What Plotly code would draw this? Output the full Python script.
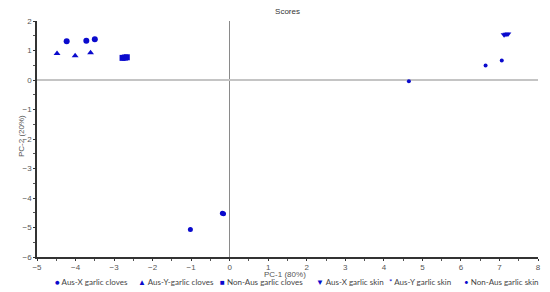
import plotly.graph_objects as go

# PCA scores
aus_x_cloves_pc1 = [-4.23, -3.72, -3.50]
aus_x_cloves_pc2 = [1.31, 1.33, 1.38]

aus_y_cloves_pc1 = [-4.48, -4.01, -3.61]
aus_y_cloves_pc2 = [0.90, 0.82, 0.92]

non_aus_cloves_pc1 = [-2.78, -2.72, -2.67]
non_aus_cloves_pc2 = [0.75, 0.76, 0.77]

aus_x_skin_pc1 = [7.12, 7.17, 7.22]
aus_x_skin_pc2 = [1.53, 1.55, 1.56]

aus_y_skin_pc1 = [4.65, 6.64, 7.06]
aus_y_skin_pc2 = [-0.04, 0.49, 0.66]

non_aus_skin_pc1 = [-1.02, -0.19, -0.16]
non_aus_skin_pc2 = [-5.07, -4.52, -4.53]

# legend labels as printed under the chart (note the hyphen in the 2nd one)
legend_labels = [
    "Aus-X garlic cloves", "Aus-Y-garlic cloves", "Non-Aus garlic cloves",
    "Aus-X garlic skin", "Aus-Y garlic skin", "Non-Aus garlic skin",
]
legend_glyphs = ["\u25cf", "\u25b2", "\u25a0", "\u25bc", "*", "\u2022"]

BLUE = "#0a0acd"
GREY_TXT = "#555555"
# the page body adds an 8px margin, so the figure is 8px smaller each way
W, H = 542, 284
M = dict(l=29, r=12, t=13, b=35)

series = [
    ("Aus-X garlic cloves", aus_x_cloves_pc1, aus_x_cloves_pc2, "circle", 6),
    ("Aus-Y garlic cloves", aus_y_cloves_pc1, aus_y_cloves_pc2, "triangle-up", 6),
    ("Non-Aus garlic cloves", non_aus_cloves_pc1, non_aus_cloves_pc2, "square", 6),
    ("Aus-X garlic skin", aus_x_skin_pc1, aus_x_skin_pc2, "triangle-down", 6),
    ("Aus-Y garlic skin", aus_y_skin_pc1, aus_y_skin_pc2, "circle", 4),
    ("Non-Aus garlic skin", non_aus_skin_pc1, non_aus_skin_pc2, "circle", 5),
]

fig = go.Figure()
for name, xs, ys, sym, size in series:
    fig.add_trace(go.Scatter(
        x=xs, y=ys, mode="markers", name=name, showlegend=False,
        marker=dict(symbol=sym, size=size, color=BLUE, line=dict(width=0)),
    ))

axis_common = dict(
    showgrid=False, zeroline=True, showline=True, automargin=False,
    linecolor="#333333", linewidth=1.5,
    ticks="outside", ticklen=2, tickcolor="#333333",
    tickfont=dict(family="Liberation Sans", size=8, color=GREY_TXT),
    minor=dict(ticks="outside", ticklen=2, tickcolor=GREY_TXT, dtick=0.5),
    dtick=1,
)

fig.update_xaxes(range=[-5, 8], zerolinecolor="#8a8a8a", zerolinewidth=1, **axis_common)
fig.update_yaxes(range=[-6, 2], zerolinecolor="#c4c4c4", zerolinewidth=2, **axis_common)

pw = W - M["l"] - M["r"]
ph = H - M["t"] - M["b"]


def px_to_paper(px, py):
    # figure pixel -> paper fraction
    return (px - M["l"]) / pw, (H - M["b"] - py) / ph


title_font = dict(family="Liberation Sans", size=8, color=GREY_TXT)

# axis titles placed as annotations so they sit exactly where the original has them
xt, yt = px_to_paper(277, 266)
fig.add_annotation(xref="paper", yref="paper", x=xt, y=yt, text="PC-1 (80%)",
                   showarrow=False, xanchor="center", yanchor="middle", font=title_font)
xt, yt = px_to_paper(13, 128)
fig.add_annotation(xref="paper", yref="paper", x=xt, y=yt, text="PC-2 (20%)",
                   textangle=-90, showarrow=False, xanchor="center", yanchor="middle",
                   font=title_font)

# hand-made legend row (symbol glyph + label), like the original figure
legend_x_px = [45, 128, 210, 306, 379, 454]
legend_y_px = 274
for glyph, label, px in zip(legend_glyphs, legend_labels, legend_x_px):
    lx, ly = px_to_paper(px, legend_y_px)
    fig.add_annotation(
        xref="paper", yref="paper", x=lx, y=ly,
        xanchor="left", yanchor="middle", showarrow=False,
        text=f"<span style='color:{BLUE}'>{glyph}</span> {label}",
        font=dict(family="Lato", size=8, color="#444444"),
    )

fig.update_layout(
    width=W, height=H, margin=M, showlegend=False,
    plot_bgcolor="white", paper_bgcolor="white",
    title=dict(text="Scores", x=0.5, xref="paper", y=1.0, yanchor="top",
               font=dict(family="Liberation Sans", size=8, color="#333333")),
)

fig.write_html("out.html")
